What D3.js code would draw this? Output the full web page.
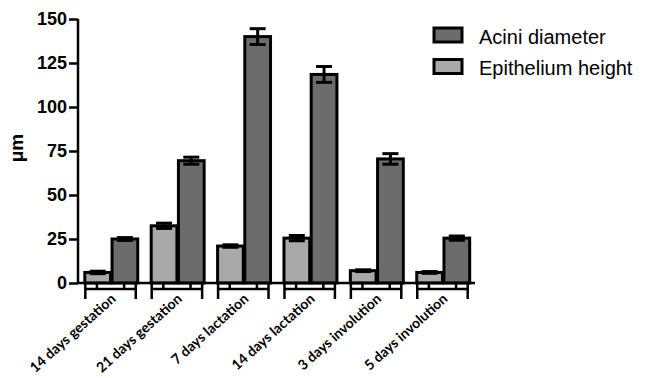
<!DOCTYPE html>
<html>
<head>
<meta charset="utf-8">
<script src="https://cdn.jsdelivr.net/npm/d3@7"></script>
<style>
  body { margin: 0; background: #fff; }
  svg { display: block; }
</style>
</head>
<body>
<svg id="chart" width="646" height="378"></svg>
<script>
// data
const stages = ["14 days gestation", "21 days gestation", "7 days lactation",
                "14 days lactation", "3 days involution", "5 days involution"];
const series = ["Epithelium height", "Acini diameter"];
const epithelium = [6, 32.5, 21, 25.5, 7, 6];
const epitheliumErr = [0.7, 1.5, 0.7, 1.5, 0.5, 0.5];
const acini = [25, 69.5, 140, 118.5, 70.5, 25.5];
const aciniErr = [0.8, 2, 4.5, 4.5, 3, 1.2];
const yTicks = [0, 25, 50, 75, 100, 125, 150];

const colors = {"Epithelium height": "#a9a9a9", "Acini diameter": "#6c6c6c"};

const svg = d3.select("#chart");
const plotL = 78, plotR = 475, plotT = 19, plotB = 283;

const x0 = d3.scaleBand().domain(stages).range([plotL, plotR])
  .paddingInner(0.18).paddingOuter(0.08);
const x1 = d3.scaleBand().domain(series).range([0, x0.bandwidth()]);
const y = d3.scaleLinear().domain([0, 150]).range([plotB, plotT]);

const rows = stages.map((s, i) => ({
  stage: s,
  vals: [
    {key: "Epithelium height", v: epithelium[i], e: epitheliumErr[i]},
    {key: "Acini diameter", v: acini[i], e: aciniErr[i]}
  ]
}));

// bars
const groups = svg.append("g").selectAll("g")
  .data(rows).enter().append("g")
  .attr("transform", d => `translate(${x0(d.stage)},0)`);

groups.selectAll("rect")
  .data(d => d.vals).enter().append("rect")
  .attr("x", d => x1(d.key) + 1.5)
  .attr("y", d => y(d.v))
  .attr("width", x1.bandwidth() - 1.5)
  .attr("height", d => y(0) - y(d.v))
  .attr("fill", d => colors[d.key])
  .attr("stroke", "#000")
  .attr("stroke-width", 3);

// error bars (drawn over bar tops)
const eb = groups.selectAll("g.err")
  .data(d => d.vals).enter().append("g").attr("class", "err")
  .attr("transform", d => `translate(${x1(d.key) + 0.75 + x1.bandwidth() / 2},0)`)
  .attr("stroke", "#000").attr("stroke-width", 3);
eb.append("line").attr("y1", d => y(d.v + d.e)).attr("y2", d => y(d.v - d.e));
eb.append("line").attr("x1", -8).attr("x2", 8)
  .attr("y1", d => y(d.v + d.e)).attr("y2", d => y(d.v + d.e));
eb.append("line").attr("x1", -8).attr("x2", 8)
  .attr("y1", d => y(d.v - d.e)).attr("y2", d => y(d.v - d.e));

// y axis
const yAxis = svg.append("g")
  .attr("transform", `translate(${plotL},0)`)
  .call(d3.axisLeft(y).tickValues(yTicks).tickSize(9).tickPadding(2));
yAxis.select(".domain").attr("stroke-width", 2.5).attr("d", `M0,${plotT}V${plotB}`);
yAxis.selectAll(".tick line").attr("stroke-width", 2.5);
yAxis.selectAll("text")
  .attr("font-family", "Liberation Sans, Arial, sans-serif")
  .attr("font-weight", "bold").attr("font-size", 18).attr("fill", "#000");

// x axis line
svg.append("line")
  .attr("x1", plotL - 1).attr("x2", plotR)
  .attr("y1", plotB).attr("y2", plotB)
  .attr("stroke", "#000").attr("stroke-width", 2.5);

// grouped x axis brackets
const br = svg.append("g").selectAll("g")
  .data(stages).enter().append("g")
  .attr("transform", d => `translate(${x0(d)},0)`)
  .attr("stroke", "#000").attr("stroke-width", 2.5);
br.append("line").attr("x1", 2).attr("x2", x0.bandwidth() - 2)
  .attr("y1", plotB + 6).attr("y2", plotB + 6);
br.append("line").attr("x1", 2).attr("x2", 2).attr("y1", plotB).attr("y2", plotB + 16);
br.append("line").attr("x1", x0.bandwidth() - 2).attr("x2", x0.bandwidth() - 2)
  .attr("y1", plotB).attr("y2", plotB + 16);
br.selectAll("line.t").data(series).enter().append("line").attr("class", "t")
  .attr("x1", s => x1(s) + x1.bandwidth() / 2).attr("x2", s => x1(s) + x1.bandwidth() / 2)
  .attr("y1", plotB).attr("y2", plotB + 6);

// category labels
svg.append("g").selectAll("text")
  .data(stages).enter().append("text")
  .attr("transform", d => `translate(${x0(d) + x0.bandwidth() / 2 + 6},${plotB + 17}) rotate(-42)`)
  .attr("text-anchor", "end")
  .attr("font-family", "Lato, sans-serif")
  .attr("font-weight", "bold").attr("font-size", 14)
  .text(d => d);

// y title
svg.append("text")
  .attr("transform", "translate(23,148) rotate(-90)")
  .attr("text-anchor", "middle")
  .attr("font-family", "Liberation Sans, Arial, sans-serif")
  .attr("font-weight", "bold").attr("font-size", 19)
  .text("μm");

// legend
const legendOrder = ["Acini diameter", "Epithelium height"];
const lg = svg.append("g").selectAll("g")
  .data(legendOrder).enter().append("g")
  .attr("transform", (d, i) => `translate(434,${28 + i * 31.5})`);
lg.append("rect").attr("width", 28).attr("height", 14)
  .attr("fill", d => colors[d]).attr("stroke", "#000").attr("stroke-width", 3);
lg.append("text").attr("x", 45).attr("y", 15.5)
  .attr("font-family", "Liberation Sans, Arial, sans-serif")
  .attr("font-size", 20)
  .text(d => d);
</script>
</body>
</html>
